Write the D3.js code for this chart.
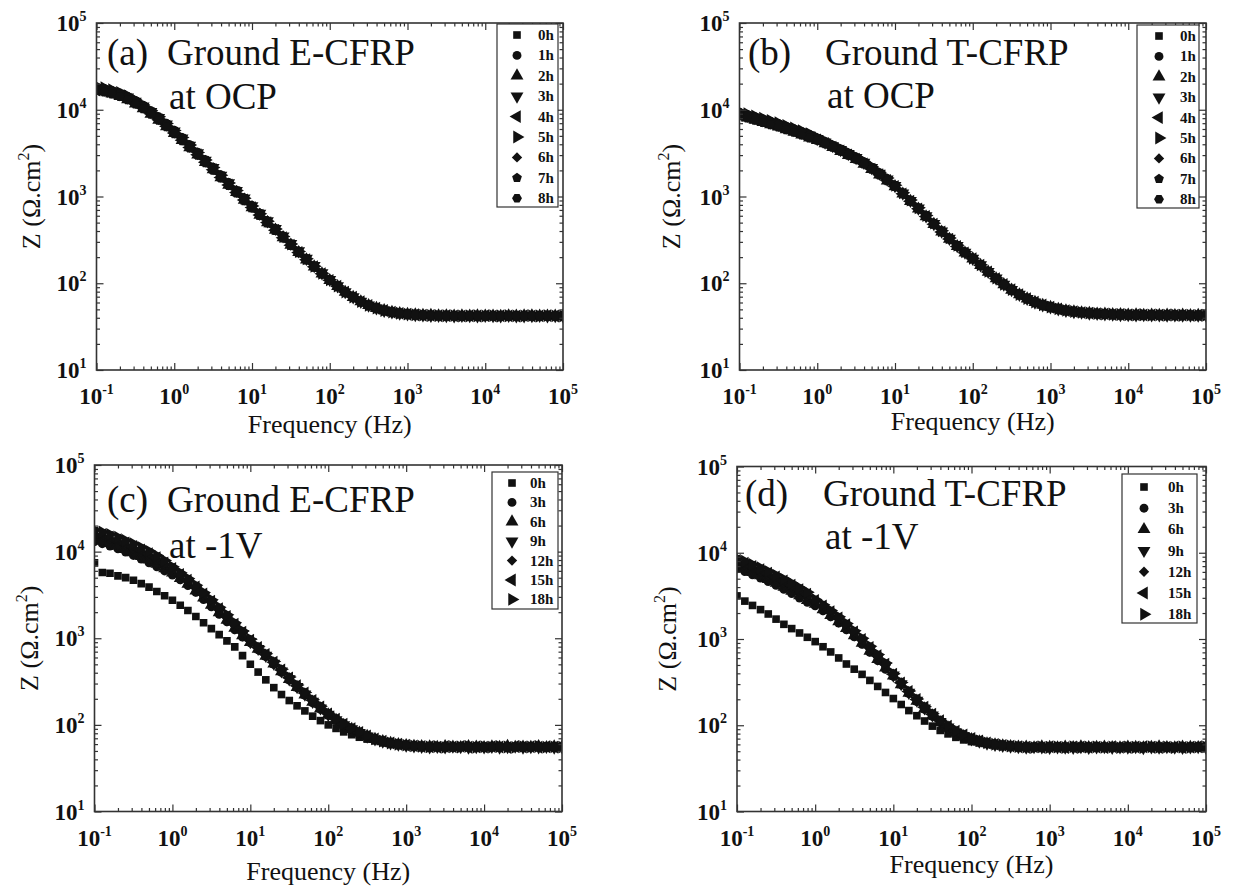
<!DOCTYPE html>
<html><head><meta charset="utf-8">
<script src="https://cdn.jsdelivr.net/npm/d3@7"></script>
<style>
body{margin:0;background:#fff}
svg{display:block}
svg text{font-family:"Liberation Serif","Times New Roman",Times,serif;}
</style>
</head><body>
<svg id="chart" width="1233" height="888"></svg>
<script>
// ---------------- DATA ----------------
const freq = [0.1,0.126,0.158,0.2,0.251,0.316,0.398,0.501,0.631,0.794,
1,1.26,1.58,2,2.51,3.16,3.98,5.01,6.31,7.94,
10,12.6,15.8,20,25.1,31.6,39.8,50.1,63.1,79.4,
100,126,158,200,251,316,398,501,631,794,
1000,1260,1580,2000,2510,3160,3980,5010,6310,7940,
10000,12600,15800,20000,25100,31600,39800,50100,63100,79400,
100000];

const xTickExps = [-1,0,1,2,3,4,5];
const yTickExps = [1,2,3,4,5];

const labelsOCP = ["0h","1h","2h","3h","4h","5h","6h","7h","8h"];
const labelsCath = ["0h","3h","6h","9h","12h","15h","18h"];

// (a) Ground E-CFRP at OCP
const a_0h = [17450,16800,15950,14890,13640,12230,10760,9300,7920,6660,5550,4600,3790,3120,2560,2100,1710,1400,1145,936,766,626,513,419,343,281,231,190,157,130,109,92.5,79.3,69.2,61.5,55.7,51.6,48.6,46.5,45.1,44.1,43.4,42.9,42.6,42.4,42.3,42.2,42.1,42.3,42.0,42.2,41.9,42.1,42.0,42.3,41.8,42.1,42.0,42.2,41.9,42.4];
const a_1h = [18300,17600,16700,15600,14300,12800,11300,9750,8300,6980,5810,4800,3950,3250,2660,2180,1775,1450,1185,965,788,642,525,428,350,286,234,192,158,131,110,93,79.6,69.4,61.7,55.8,51.7,48.7,46.6,45.2,44.2,43.5,43.0,42.5,42.6,42.1,42.4,42.0,42.2,42.3,41.9,42.2,42.4,41.8,42.1,42.3,41.9,42.2,42.0,42.5,42.1];
const a_2h = [16700,16100,15300,14300,13100,11750,10350,8950,7620,6410,5350,4440,3660,3020,2480,2040,1660,1360,1115,913,748,612,502,411,337,276,227,187,155,129,108,92,79,69,61.4,55.6,51.5,48.5,46.4,45,44,43.3,42.8,42.7,42.3,42.4,42.0,42.2,41.9,42.3,42.1,42.0,41.8,42.3,42.0,42.2,42.4,41.9,42.1,42.0,42.2];
const a_3h = [17800,17150,16270,15190,13910,12470,10980,9490,8080,6790,5660,4690,3870,3180,2610,2140,1745,1428,1168,954,780,637,522,426,349,286,235,193,159,131,110,92.8,79.5,69.3,61.6,55.8,51.6,48.6,46.5,45.1,44.1,43.4,42.9,42.4,42.5,42.2,42.0,42.3,42.1,41.8,42.3,42.1,42.0,42.4,41.9,42.0,42.2,42.3,41.8,42.1,42.0];
const a_4h = [16900,16300,15470,14440,13230,11860,10440,9020,7680,6460,5380,4460,3680,3030,2480,2040,1660,1360,1112,910,745,610,500,409,335,275,226,187,155,129,108,92.2,79.1,69.1,61.4,55.6,51.5,48.5,46.4,45.0,44.0,43.3,42.8,42.6,42.2,42.3,42.1,41.9,42.2,42.0,42.3,41.9,42.2,42.1,41.8,42.4,42.0,42.1,42.3,41.9,42.2];
const a_5h = [18700,17950,17000,15850,14480,12950,11350,9780,8300,6960,5780,4780,3930,3225,2640,2160,1755,1435,1170,953,778,634,519,423,346,283,232,191,157,130,109.5,92.7,79.4,69.3,61.5,55.7,51.6,48.6,46.5,45.1,44.1,43.4,42.9,42.5,42.4,42.2,42.3,42.0,42.1,42.2,41.9,42.3,42.0,42.2,42.1,41.9,42.3,42.0,42.4,42.1,41.9];
const a_6h = [17250,16650,15800,14760,13530,12140,10690,9250,7880,6630,5530,4585,3780,3115,2555,2095,1708,1398,1144,935,765,625,512,418,342,280,230,189,156,129.5,109,92.4,79.2,69.2,61.5,55.7,51.6,48.6,46.5,45.1,44.1,43.4,42.9,42.6,42.3,42.4,42.0,42.2,42.1,42.3,42.0,42.1,41.9,42.2,42.3,42.0,41.8,42.2,42.1,42.3,42.0];
const a_7h = [17970,17300,16430,15340,14050,12600,11080,9580,8160,6860,5720,4740,3900,3210,2635,2160,1760,1440,1178,962,786,642,526,429,351,287,235,193,159,131,110,92.9,79.5,69.3,61.6,55.8,51.7,48.7,46.6,45.2,44.2,43.5,42.9,42.5,42.4,42.1,42.3,42.2,41.9,42.1,42.3,42.0,42.2,41.9,42.1,42.3,42.0,42.2,41.9,42.0,42.3];
const a_8h = [16580,15960,15150,14150,12960,11620,10220,8840,7520,6330,5270,4370,3600,2965,2430,1995,1625,1330,1090,890,731,599,492,403,330,271,223,184,152,127,107,91.8,78.9,69,61.3,55.5,51.5,48.5,46.4,45.0,44.0,43.3,42.8,42.5,42.3,42.1,42.2,42.0,42.3,41.9,42.1,42.2,42.0,41.8,42.3,42.1,42.0,42.2,41.9,42.3,42.1];

// (b) Ground T-CFRP at OCP
const b_0h = [8910,8410,7940,7480,7030,6610,6170,5750,5350,4960,4570,4170,3780,3410,3070,2750,2430,2110,1820,1560,1320,1084,891,728,593,483,395,326,269,226,193,162,136,114,97,84.1,74.1,66.4,60.5,56.2,53,50.5,48.5,47.1,46,45.2,44.6,44.2,43.8,43.5,43.3,43.2,43.1,43,43,42.9,42.8,42.8,42.7,42.7,42.6];
const b_1h = [9360,8830,8340,7850,7380,6940,6480,6040,5620,5210,4730,4320,3910,3530,3180,2850,2520,2180,1880,1610,1346,1106,909,743,605,493,403,333,274,231,194,162,136,114,97.2,84.2,74.2,66.5,60.6,56.3,53.1,50.6,48.6,47.2,46.1,45.0,44.8,44.0,43.9,43.3,43.5,43.0,43.3,42.8,43.2,42.7,43.0,42.6,42.9,42.5,42.8];
const b_2h = [8550,8070,7620,7180,6750,6350,5920,5520,5140,4760,4460,4070,3690,3320,2990,2680,2370,2060,1775,1520,1307,1073,882,721,587,478,391,323,266,224,192,161,135,113,96.6,83.8,73.9,66.2,60.3,56.0,52.8,50.3,48.3,46.9,45.8,45.3,44.4,44.3,43.6,43.7,43.1,43.4,42.9,43.2,42.8,43.1,42.6,43.0,42.5,42.9,42.4];
const b_3h = [9090,8580,8100,7630,7170,6740,6290,5870,5460,5060,4630,4220,3830,3450,3110,2790,2460,2140,1845,1580,1328,1091,896,732,597,486,397,328,271,227,193,162,136,114,97.1,84.1,74.1,66.4,60.5,56.2,53.0,50.5,48.5,47.0,46.1,45.1,44.7,44.1,43.9,43.4,43.4,43.1,43.2,42.9,43.1,42.8,42.9,42.7,42.8,42.6,42.7];
const b_4h = [8640,8160,7700,7260,6820,6410,5980,5580,5190,4810,4480,4090,3700,3340,3010,2700,2380,2070,1785,1530,1307,1073,882,721,587,478,391,323,266,224,192,161,135,113,96.8,84.0,74.0,66.3,60.4,56.1,52.9,50.4,48.4,47.1,45.9,45.3,44.5,44.3,43.7,43.6,43.2,43.3,43.0,43.1,42.9,43.0,42.7,42.9,42.6,42.8,42.5];
const b_5h = [9530,9000,8500,8000,7520,7070,6600,6150,5720,5310,4780,4360,3950,3560,3210,2870,2540,2200,1900,1630,1346,1106,909,743,605,493,403,333,274,231,194,163,137,115,97.4,84.4,74.3,66.6,60.7,56.4,53.2,50.7,48.7,47.3,46.2,45.4,44.8,44.1,43.9,43.6,43.4,43.1,43.3,42.9,43.2,42.8,43.0,42.7,42.9,42.6,42.8];
const b_6h = [8820,8330,7860,7410,6960,6540,6110,5690,5300,4910,4530,4130,3740,3380,3040,2720,2410,2090,1800,1545,1310,1078,887,725,591,482,394,325,268,225,193,162,136,114,97,84.1,74.1,66.4,60.5,56.2,53,50.5,48.5,47.1,46,45.1,44.7,44.1,43.9,43.4,43.4,43.1,43.2,42.9,43.1,42.8,42.9,42.7,42.8,42.6,42.7];
const b_7h = [9180,8660,8180,7700,7240,6810,6360,5920,5510,5110,4660,4250,3860,3480,3130,2810,2480,2150,1855,1590,1333,1095,900,735,599,488,399,329,272,228,193,162,136,114,97.1,84.2,74.2,66.5,60.6,56.3,53.1,50.6,48.6,47.2,46.0,45.3,44.5,44.3,43.7,43.6,43.2,43.3,43.0,43.1,42.9,43.0,42.7,42.9,42.6,42.8,42.5];
const b_8h = [8460,7990,7540,7110,6680,6280,5860,5460,5080,4710,4430,4040,3670,3310,2980,2670,2360,2050,1765,1515,1300,1068,878,717,584,476,389,321,265,223,192,161,135,113,96.7,83.9,73.9,66.2,60.3,56.0,52.8,50.3,48.4,47.0,45.9,45.2,44.5,44.2,43.8,43.5,43.2,43.2,43.0,43.0,42.9,42.9,42.7,42.8,42.6,42.7,42.5];

// (c) Ground E-CFRP at -1V
const c_0h = [7410,5750,5620,5250,5010,4680,4270,3890,3470,3090,2750,2400,2090,1780,1510,1290,1100,933,794,631,501,407,331,269,224,191,166,145,126,112,100,91,83,77,72,68.5,65.5,62.5,60.5,59,57.8,57,56.3,56.8,55.6,56.4,55.2,56.9,55.5,56.1,55.0,56.6,55.8,56.2,55.3,57.0,55.7,56.5,55.1,56.8,55.9];
const c_3h = [13020,12350,11600,10750,9870,9030,8210,7440,6680,5980,5350,4720,4060,3390,2800,2310,1890,1550,1250,1030,885,736,612,498,404,329,267,219,180,151,129,112,98.5,88.5,80.3,73.5,68.1,64.2,61.3,59.3,57.9,56.9,56.0,55.4,56.3,55.1,56.0,55.6,54.9,56.2,55.3,55.8,54.8,56.1,55.5,55.0,56.4,55.2,55.9,54.7,56.0];
const c_6h = [14050,13330,12520,11610,10660,9750,8860,8030,7210,6370,5710,4940,4240,3540,2930,2420,1980,1620,1310,1077,901,750,623,507,412,335,272,223,184,154,131,113,99.3,89.0,80.7,73.8,68.3,64.4,61.4,59.4,57.9,56.9,56.2,55.9,55.2,56.5,55.6,55.0,56.3,55.7,54.9,56.0,55.4,56.6,55.1,55.8,55.3,56.2,54.8,55.9,55.5];
const c_9h = [14790,14030,13180,12220,11220,10260,9330,8450,7590,6710,5890,5090,4370,3650,3020,2490,2040,1670,1350,1110,912,759,631,513,417,339,275,226,186,156,132,114,100,89.5,81,74,68.5,64.5,61.5,59.5,58,57,56.3,55.6,56.1,55.3,56.4,55.8,55.0,56.0,55.6,56.3,55.1,55.7,56.5,55.2,55.9,55.4,56.2,55.0,55.8];
const c_12h = [15680,14870,13970,12950,11890,10880,9890,8960,8050,7110,6100,5270,4530,3780,3130,2580,2110,1730,1400,1150,926,770,640,521,423,344,279,229,189,158,133,115,101,90,81.3,74.2,68.7,64.6,61.6,59.6,58.1,57.1,56.4,55.5,56.6,55.9,55.2,56.1,55.6,54.9,56.3,55.5,56.0,55.2,55.8,56.4,55.0,55.7,56.1,55.3,55.9];
const c_15h = [16560,15710,14760,13690,12570,11490,10450,9460,8500,7400,6400,5460,4680,3910,3240,2670,2190,1790,1450,1175,950,782,650,528,430,349,283,233,192,161,134,116,102,90.6,81.7,74.5,68.9,64.8,61.7,59.7,58.2,57.2,56.3,56.0,55.4,56.2,55.7,56.5,55.1,55.8,55.3,56.1,55.6,54.8,56.3,55.5,55.9,55.2,56.0,55.4,56.2];
const c_18h = [17750,16840,15820,14660,13460,12310,11200,10140,9000,7900,6700,5700,4890,4090,3380,2790,2280,1870,1510,1215,975,797,663,539,438,356,289,237,195,164,136,117,103,91.2,82.1,74.8,69.1,65.0,61.8,59.8,58.3,57.2,56.5,55.7,56.2,55.0,56.0,55.5,56.4,55.2,55.9,55.3,56.2,55.6,55.0,56.1,55.7,56.5,55.3,55.8,55.4];

// (d) Ground T-CFRP at -1V
const d_0h = [3160,2750,2450,2190,1950,1700,1480,1320,1175,1047,933,813,708,603,513,447,389,331,282,240,204,174,148,129,112,97.7,87.1,79.4,72.4,67.6,64.6,62.4,60.3,58.9,57.5,56.6,56.0,55.4,56.1,55.2,55.8,54.9,56.3,55.5,55.0,56.2,55.3,55.9,54.8,56.0,55.6,55.1,56.4,55.4,55.8,54.9,56.1,55.5,55.2,56.3,55.7];
const d_3h = [6520,6050,5550,5090,4620,4180,3760,3360,2980,2660,2420,2120,1810,1530,1280,1058,866,699,560,446,369,293,233,188,153,127,107,92.0,80.7,73.0,67.5,63.8,60.9,59.1,57.8,56.8,56.0,55.3,56.2,55.0,55.7,56.4,55.2,55.9,54.8,56.1,55.5,55.0,56.3,55.4,55.8,54.9,56.0,55.6,55.1,56.2,55.3,55.9,54.7,55.6,56.0];
const d_6h = [6970,6460,5930,5430,4940,4470,4010,3590,3190,2820,2540,2200,1880,1590,1330,1099,899,726,581,464,374,297,236,191,156,129,108,93.4,82.0,74.2,68.3,64.4,61.3,59.4,58.0,56.9,56.1,55.9,55.1,56.3,55.6,55.0,56.1,55.4,56.5,55.2,55.8,56.0,55.3,54.9,56.2,55.7,55.0,55.8,56.3,55.4,55.1,56.0,55.6,55.2,55.9];
const d_9h = [7410,6870,6310,5780,5250,4750,4270,3820,3390,3000,2630,2280,1950,1650,1380,1140,933,753,603,481,380,302,240,194,158,131,110,94.8,83.2,75.3,69.2,65.0,61.7,59.7,58.2,57.1,56.2,55.5,56.3,55.8,55.1,56.0,55.6,55.3,56.2,55.0,55.7,56.4,55.2,55.9,55.5,56.1,54.9,55.8,55.4,56.3,55.6,55.0,55.9,56.2,55.3];
const d_12h = [7780,7210,6630,6070,5510,4990,4480,4010,3560,3150,2710,2350,2010,1700,1420,1174,961,776,621,495,385,306,243,196,160,133,111,96.0,84.2,76.2,69.8,65.4,62.0,59.9,58.4,57.2,56.3,56.0,55.4,56.5,55.2,55.8,56.1,55.0,55.7,56.3,55.5,55.1,56.0,55.6,56.4,55.3,55.9,55.2,56.1,55.5,55.8,54.9,56.2,55.4,55.7];
const d_15h = [8150,7560,6940,6360,5780,5230,4700,4200,3730,3300,2790,2420,2070,1750,1463,1208,989,798,639,510,390,310,246,199,162,134,113,97.2,85.3,77.2,70.4,65.9,62.3,60.1,58.5,57.3,56.4,55.6,56.1,55.3,56.3,55.7,55.0,55.9,56.2,55.4,55.8,55.1,56.5,55.6,55.2,55.9,56.3,55.5,55.0,55.8,56.1,55.3,55.7,56.4,55.5];
const d_18h = [8600,7970,7320,6700,6090,5510,4950,4430,3930,3480,2880,2500,2140,1810,1510,1250,1023,825,661,527,395,314,250,202,164,136,114,98.6,86.5,78.3,71.0,66.3,62.6,60.3,58.7,57.4,56.5,55.8,55.2,56.2,55.5,56.0,55.3,56.4,55.1,55.7,56.2,55.4,55.9,55.0,56.1,55.6,55.2,56.3,55.5,55.9,55.0,56.0,55.4,55.8,56.2];

// ---------------- STYLE / LAYOUT ----------------
const INK = "#111";
const AX = "#333";

const pentagon = { draw(ctx, size){ const r = Math.sqrt(size/2.378); for(let i=0;i<5;i++){ const a=-Math.PI/2+i*2*Math.PI/5; const px=r*Math.cos(a), py=r*Math.sin(a); i?ctx.lineTo(px,py):ctx.moveTo(px,py);} ctx.closePath(); } };
const hexagon = { draw(ctx, size){ const r = Math.sqrt(size/2.598); for(let i=0;i<6;i++){ const a=i*Math.PI/3; const px=r*Math.cos(a), py=r*Math.sin(a); i?ctx.lineTo(px,py):ctx.moveTo(px,py);} ctx.closePath(); } };

const MARK = {
  square:[d3.symbolSquare,0,58], circle:[d3.symbolCircle,0,62],
  up:[d3.symbolTriangle,0,72], down:[d3.symbolTriangle,180,72],
  left:[d3.symbolTriangle,-90,72], right:[d3.symbolTriangle,90,72],
  diamond:[d3.symbolSquare,45,54], pent:[pentagon,0,62], hex:[hexagon,0,64]
};
const ocpMarks = ["square","circle","up","down","left","right","diamond","pent","hex"];
const cathMarks = ["square","circle","up","down","diamond","left","right"];

const panels = [
  {x0:96.5,x1:563,y0:23,y1:370, tag:"(a)", t1:"Ground E-CFRP", t2:"at OCP",
   tagX:107, tX:167, t1Y:65, t2Y:109, ytX:40, xtY:433,
   labels:labelsOCP, marks:ocpMarks, data:[a_0h,a_1h,a_2h,a_3h,a_4h,a_5h,a_6h,a_7h,a_8h],
   leg:{bx:497,by:24,bw:61,bh:183,sx:517,tx:538,ry:35,dy:20.4}},
  {x0:739.5,x1:1206,y0:23,y1:370, tag:"(b)", t1:"Ground T-CFRP", t2:"at OCP",
   tagX:748, tX:825, t1Y:65, t2Y:108, ytX:680, xtY:430,
   labels:labelsOCP, marks:ocpMarks, data:[b_0h,b_1h,b_2h,b_3h,b_4h,b_5h,b_6h,b_7h,b_8h],
   leg:{bx:1137,by:25,bw:62,bh:183,sx:1159,tx:1180,ry:36,dy:20.4}},
  {x0:94.5,x1:562,y0:465,y1:811.5, tag:"(c)", t1:"Ground E-CFRP", t2:"at -1V",
   tagX:107, tX:167, t1Y:512, t2Y:558, ytX:38, xtY:880,
   labels:labelsCath, marks:cathMarks, data:[c_0h,c_3h,c_6h,c_9h,c_12h,c_15h,c_18h],
   leg:{bx:492,by:472,bw:66,bh:137,sx:512,tx:530,ry:483,dy:19.4}},
  {x0:737,x1:1206,y0:466.5,y1:811.5, tag:"(d)", t1:"Ground T-CFRP", t2:"at -1V",
   tagX:745, tX:823, t1Y:506, t2Y:549, ytX:676, xtY:873,
   labels:labelsCath, marks:cathMarks, data:[d_0h,d_3h,d_6h,d_9h,d_12h,d_15h,d_18h],
   leg:{bx:1122,by:474,bw:75,bh:149,sx:1144,tx:1168,ry:487,dy:21.2}}
];

const svg = d3.select("#chart");
svg.append("rect").attr("width",1233).attr("height",888).attr("fill","#fff");

function sym(key){ const m = MARK[key]; return d3.symbol().type(m[0]).size(m[2])(); }

panels.forEach((p,pi) => {
  const x = d3.scaleLog().domain([0.1,1e5]).range([p.x0,p.x1]);
  const y = d3.scaleLog().domain([10,1e5]).range([p.y1,p.y0]);
  const g = svg.append("g");
  const clipId = "clip"+pi;
  g.append("clipPath").attr("id",clipId).append("rect")
    .attr("x",p.x0).attr("y",p.y0).attr("width",p.x1-p.x0).attr("height",p.y1-p.y0);

  const plot = g.append("g").attr("clip-path",`url(#${clipId})`);
  p.data.forEach((vals,si) => {
    const key = p.marks[si], rot = MARK[key][1], d = sym(key);
    plot.append("g").selectAll("path").data(vals).join("path")
      .attr("d", d).attr("fill", INK)
      .attr("transform",(v,i)=>`translate(${x(freq[i])},${y(v)}) rotate(${rot})`);
  });

  const xMaj = xTickExps.map(e => Math.pow(10,e));
  const yMaj = yTickExps.map(e => Math.pow(10,e));
  const xMin = x.ticks().filter(v => !xMaj.some(m => Math.abs(m-v)/m < 1e-6));
  const yMin = y.ticks().filter(v => !yMaj.some(m => Math.abs(m-v)/m < 1e-6));
  const style = s => s.call(a=>a.select(".domain").remove())
      .call(a=>a.selectAll("line").attr("stroke",AX).attr("stroke-width",1.2));
  const add = (axis, tr) => g.append("g").attr("transform",tr).call(axis).call(style);
  add(d3.axisBottom(x).tickValues(xMaj).tickSize(-7).tickFormat(""), `translate(0,${p.y1})`);
  add(d3.axisBottom(x).tickValues(xMin).tickSize(-3.5).tickFormat(""), `translate(0,${p.y1})`);
  add(d3.axisTop(x).tickValues(xMaj).tickSize(-7).tickFormat(""), `translate(0,${p.y0})`);
  add(d3.axisTop(x).tickValues(xMin).tickSize(-3.5).tickFormat(""), `translate(0,${p.y0})`);
  add(d3.axisLeft(y).tickValues(yMaj).tickSize(-7).tickFormat(""), `translate(${p.x0},0)`);
  add(d3.axisLeft(y).tickValues(yMin).tickSize(-3.5).tickFormat(""), `translate(${p.x0},0)`);
  add(d3.axisRight(y).tickValues(yMaj).tickSize(-7).tickFormat(""), `translate(${p.x1},0)`);
  add(d3.axisRight(y).tickValues(yMin).tickSize(-3.5).tickFormat(""), `translate(${p.x1},0)`);

  g.append("rect").attr("x",p.x0).attr("y",p.y0).attr("width",p.x1-p.x0).attr("height",p.y1-p.y0)
    .attr("fill","none").attr("stroke",AX).attr("stroke-width",1.6);

  xTickExps.forEach(e => {
    const t = g.append("text").attr("x",x(Math.pow(10,e))).attr("y",p.y1+34)
      .attr("text-anchor","middle").attr("font-weight","bold")
      .attr("font-size",23).attr("fill",INK);
    t.append("tspan").text("10");
    t.append("tspan").attr("font-size",14).attr("dy",-10).text(String(e));
  });
  yTickExps.forEach(e => {
    const t = g.append("text").attr("x",p.x0-10).attr("y",y(Math.pow(10,e))+8)
      .attr("text-anchor","end").attr("font-weight","bold")
      .attr("font-size",23).attr("fill",INK);
    t.append("tspan").text("10");
    t.append("tspan").attr("font-size",14).attr("dy",-10).text(String(e));
  });

  g.append("text").attr("x",(p.x0+p.x1)/2).attr("y",p.xtY).attr("text-anchor","middle")
    .attr("font-size",26).attr("fill",INK).text("Frequency (Hz)");
  const yt = g.append("text").attr("transform",`translate(${p.ytX},${(p.y0+p.y1)/2}) rotate(-90)`)
    .attr("text-anchor","middle").attr("font-size",26).attr("fill",INK);
  yt.append("tspan").text("Z (Ω.cm");
  yt.append("tspan").attr("font-size",16).attr("dy",-11).text("2");
  yt.append("tspan").attr("dy",11).text(")");

  const tt = (txt,xx,yy) => g.append("text").attr("x",xx).attr("y",yy)
    .attr("font-size",37).attr("fill",INK).text(txt);
  tt(p.tag,p.tagX,p.t1Y); tt(p.t1,p.tX,p.t1Y); tt(p.t2,p.tX+2,p.t2Y);

  const L = p.leg;
  g.append("rect").attr("x",L.bx).attr("y",L.by).attr("width",L.bw).attr("height",L.bh)
    .attr("fill","#fff").attr("stroke",AX).attr("stroke-width",1.2);
  p.labels.forEach((lab,i) => {
    const key = p.marks[i], yy = L.ry + i*L.dy;
    g.append("path").attr("d",sym(key)).attr("fill",INK)
      .attr("transform",`translate(${L.sx},${yy}) rotate(${MARK[key][1]})`);
    g.append("text").attr("x",L.tx).attr("y",yy+5)
      .attr("font-weight","bold").attr("font-size",15).attr("fill",INK).text(lab);
  });
});
</script>
</body></html>
